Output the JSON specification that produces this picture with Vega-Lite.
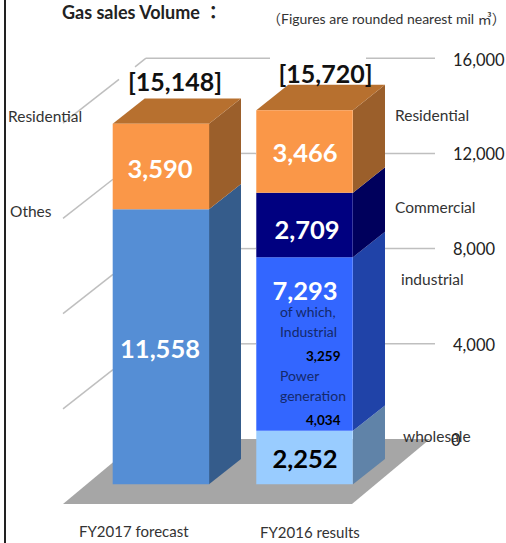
{"$schema":"https://vega.github.io/schema/vega-lite/v6.json","width":506,"height":543,"autosize":"none","padding":0,"background":"white","view":{"stroke":null},
"config":{"axis":{"grid":false},"text":{"font":"Lato, Noto Sans CJK JP"}},
"resolve":{"scale":{"x":"independent","color":"independent"}},
"datasets":{
"sales":[{"year":"FY2017 forecast","segment":"Others","rank":1,"value":11558},{"year":"FY2017 forecast","segment":"Residential","rank":2,"value":3590},{"year":"FY2016 results","segment":"Wholesale","rank":1,"value":2252},{"year":"FY2016 results","segment":"Industrial","rank":2,"value":7293},{"year":"FY2016 results","segment":"Commercial","rank":3,"value":2709},{"year":"FY2016 results","segment":"Residential","rank":4,"value":3466}],
"sides":[{"id":"L-Others","segment":"Others","d":209,"lo":0,"hi":11558},{"id":"L-Others","segment":"Others","d":241,"lo":1063,"hi":12621},{"id":"L-Res","segment":"Residential","d":209,"lo":11558,"hi":15148},{"id":"L-Res","segment":"Residential","d":241,"lo":12621,"hi":16211},{"id":"R-Whole","segment":"Wholesale","d":353,"lo":0,"hi":2252},{"id":"R-Whole","segment":"Wholesale","d":385,"lo":1063,"hi":3315},{"id":"R-Ind","segment":"Industrial","d":353,"lo":2252,"hi":9545},{"id":"R-Ind","segment":"Industrial","d":385,"lo":3315,"hi":10608},{"id":"R-Com","segment":"Commercial","d":353,"lo":9545,"hi":12254},{"id":"R-Com","segment":"Commercial","d":385,"lo":10608,"hi":13317},{"id":"R-Res","segment":"Residential","d":353,"lo":12254,"hi":15720},{"id":"R-Res","segment":"Residential","d":385,"lo":13317,"hi":16783}],
"tops":[{"id":"L","v":15148,"a":112.7,"b":209},{"id":"L","v":16211,"a":144.7,"b":241},{"id":"R","v":15720,"a":256.3,"b":353},{"id":"R","v":16783,"a":288.3,"b":385}],
"floor":[{"v":-828,"a":63,"b":352},{"v":1903,"a":141,"b":430}],
"grid":[{"id":"a1","d":63,"v":15172},{"id":"a1","d":119,"v":17014},{"id":"a2","d":135,"v":17541},{"id":"a2","d":146,"v":17903},{"id":"a3","d":146,"v":17903},{"id":"a3","d":270,"v":17903},{"id":"a4","d":366,"v":17903},{"id":"a4","d":435,"v":17903},
{"id":"b1","d":63,"v":11172},{"id":"b1","d":113,"v":12817},{"id":"b2","d":241,"v":13903},{"id":"b2","d":256,"v":13903},{"id":"b3","d":385,"v":13903},{"id":"b3","d":435,"v":13903},
{"id":"c1","d":63,"v":7172},{"id":"c1","d":113,"v":8817},{"id":"c2","d":241,"v":9903},{"id":"c2","d":256,"v":9903},{"id":"c3","d":385,"v":9903},{"id":"c3","d":435,"v":9903},
{"id":"d1","d":63,"v":3172},{"id":"d1","d":113,"v":4817},{"id":"d2","d":241,"v":5903},{"id":"d2","d":256,"v":5903},{"id":"d3","d":385,"v":5903},{"id":"d3","d":435,"v":5903}]
},
"layer":[
{"data":{"values":[{"d":5}]},"mark":{"type":"rule","color":"#222222","strokeWidth":2},"encoding":{"x":{"field":"d","type":"quantitative","scale":{"domain":[0,506]},"axis":null}}},
{"data":{"name":"floor"},"mark":{"type":"area","orient":"horizontal","color":"#A6A6A6"},"encoding":{"y":{"field":"v","type":"quantitative","scale":{"domain":[-2466,20349],"nice":false,"zero":false},"axis":null},"x":{"field":"a","type":"quantitative","scale":{"domain":[0,506]},"axis":null},"x2":{"field":"b"}}},
{"data":{"name":"grid"},"mark":{"type":"line","color":"#BFBFBF","strokeWidth":1.5},"encoding":{"detail":{"field":"id"},"order":{"field":"d"},"x":{"field":"d","type":"quantitative","scale":{"domain":[0,506]},"axis":null},"y":{"field":"v","type":"quantitative","axis":null}}},
{"data":{"name":"sides"},"mark":{"type":"area"},"encoding":{"detail":{"field":"id"},"x":{"field":"d","type":"quantitative","scale":{"domain":[0,506]},"axis":null},"y":{"field":"lo","type":"quantitative","axis":null},"y2":{"field":"hi"},"color":{"field":"segment","type":"nominal","legend":null,"scale":{"domain":["Others","Residential","Wholesale","Industrial","Commercial"],"range":["#355C8B","#9B5F2B","#6083A8","#2043A8","#00005C"]}}}},
{"data":{"name":"tops"},"mark":{"type":"area","orient":"horizontal","color":"#B7702F"},"encoding":{"detail":{"field":"id"},"y":{"field":"v","type":"quantitative","axis":null},"x":{"field":"a","type":"quantitative","scale":{"domain":[0,506]},"axis":null},"x2":{"field":"b"}}},
{"data":{"name":"sales"},"mark":{"type":"bar"},"encoding":{"x":{"field":"year","type":"nominal","sort":["FY2017 forecast","FY2016 results"],"axis":null,"scale":{"paddingInner":0.328,"paddingOuter":0.926,"align":0.4238,"round":false}},"y":{"field":"value","type":"quantitative","stack":"zero","axis":null},"order":{"field":"rank"},"color":{"field":"segment","type":"nominal","legend":null,"scale":{"domain":["Others","Residential","Wholesale","Industrial","Commercial"],"range":["#558ED5","#FA9748","#99CCFF","#3366FF","#000080"]}}}},
{"data":{"values":[{"t":"Gas sales Volume ：","d":62,"v":19761}]},"mark":{"type":"text","align":"left","fontSize":18,"fontWeight":"bold","color":"#222222","font":"Lato, Noto Sans CJK JP"},"encoding":{"text":{"field":"t"},"x":{"field":"d","type":"quantitative","scale":{"domain":[0,506]},"axis":null},"y":{"field":"v","type":"quantitative","axis":null}}},
{"data":{"values":[{"t":"（Figures are rounded nearest mil ㎥）","d":267,"v":19509}]},"mark":{"type":"text","align":"left","fontSize":14,"color":"#333333","font":"Lato, Noto Sans CJK JP"},"encoding":{"text":{"field":"t"},"x":{"field":"d","type":"quantitative","scale":{"domain":[0,506]},"axis":null},"y":{"field":"v","type":"quantitative","axis":null}}},
{"data":{"values":[{"t":"[15,148]","d":175,"v":16861},{"t":"[15,720]","d":325.5,"v":17198}]},"mark":{"type":"text","align":"center","fontSize":25,"fontWeight":"bold","color":"#111111","font":"Lato"},"encoding":{"text":{"field":"t"},"x":{"field":"d","type":"quantitative","scale":{"domain":[0,506]},"axis":null},"y":{"field":"v","type":"quantitative","axis":null}}},
{"data":{"values":[{"t":"3,590","d":160,"v":13221},{"t":"11,558","d":160,"v":5645},{"t":"3,466","d":305,"v":13880},{"t":"2,709","d":307,"v":10645},{"t":"7,293","d":305,"v":8094}]},"mark":{"type":"text","align":"center","fontSize":25.5,"fontWeight":"bold","color":"white","font":"Lato"},"encoding":{"text":{"field":"t"},"x":{"field":"d","type":"quantitative","scale":{"domain":[0,506]},"axis":null},"y":{"field":"v","type":"quantitative","axis":null}}},
{"data":{"values":[{"t":"2,252","d":305,"v":1023}]},"mark":{"type":"text","align":"center","fontSize":25.5,"fontWeight":"bold","color":"#000000","font":"Lato"},"encoding":{"text":{"field":"t"},"x":{"field":"d","type":"quantitative","scale":{"domain":[0,506]},"axis":null},"y":{"field":"v","type":"quantitative","axis":null}}},
{"data":{"values":[{"t":"Residential","d":8,"v":15450},{"t":"Othes","d":10,"v":11441},{"t":"Residential","d":395,"v":15492},{"t":"Commercial","d":395,"v":11609},{"t":"industrial","d":401,"v":8584},{"t":"wholesale","d":403,"v":1987}]},"mark":{"type":"text","align":"left","fontSize":15.5,"color":"#333333","font":"Lato"},"encoding":{"text":{"field":"t"},"x":{"field":"d","type":"quantitative","scale":{"domain":[0,506]},"axis":null},"y":{"field":"v","type":"quantitative","axis":null}}},
{"data":{"values":[{"t":"FY2017 forecast","d":79,"v":-2004},{"t":"FY2016 results","d":260,"v":-2046}]},"mark":{"type":"text","align":"left","fontSize":15,"color":"#333333","font":"Lato"},"encoding":{"text":{"field":"t"},"x":{"field":"d","type":"quantitative","scale":{"domain":[0,506]},"axis":null},"y":{"field":"v","type":"quantitative","axis":null}}},
{"data":{"values":[{"t":"16,000","d":453,"v":17788},{"t":"12,000","d":453,"v":13838},{"t":"8,000","d":453,"v":9847},{"t":"4,000","d":453,"v":5813},{"t":"0","d":451,"v":1821}]},"mark":{"type":"text","align":"left","fontSize":16.5,"color":"#222222","font":"Lato"},"encoding":{"text":{"field":"t"},"x":{"field":"d","type":"quantitative","scale":{"domain":[0,506]},"axis":null},"y":{"field":"v","type":"quantitative","axis":null}}},
{"data":{"values":[{"t":"of which,","d":280,"v":7197},{"t":"Industrial","d":280,"v":6357},{"t":"Power","d":280,"v":4508},{"t":"generation","d":280,"v":3668}]},"mark":{"type":"text","align":"left","fontSize":14,"color":"#14296B","font":"Lato"},"encoding":{"text":{"field":"t"},"x":{"field":"d","type":"quantitative","scale":{"domain":[0,506]},"axis":null},"y":{"field":"v","type":"quantitative","axis":null}}},
{"data":{"values":[{"t":"3,259","d":306,"v":5349},{"t":"4,034","d":306,"v":2660}]},"mark":{"type":"text","align":"left","fontSize":13.5,"fontWeight":"bold","color":"#000000","font":"Lato"},"encoding":{"text":{"field":"t"},"x":{"field":"d","type":"quantitative","scale":{"domain":[0,506]},"axis":null},"y":{"field":"v","type":"quantitative","axis":null}}}
]}
